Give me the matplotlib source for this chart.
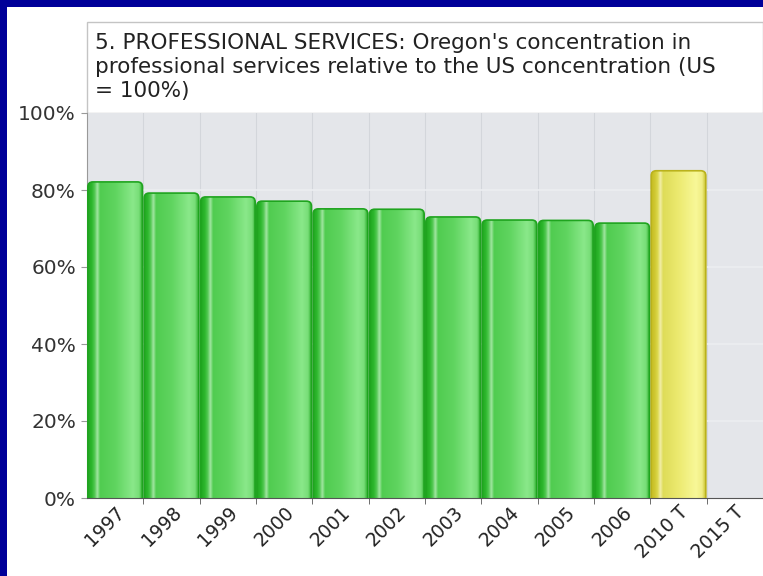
import numpy as np
import matplotlib
matplotlib.use("Agg")
import matplotlib.pyplot as plt
from matplotlib.colors import LinearSegmentedColormap
from matplotlib.patches import FancyBboxPatch, Rectangle
from matplotlib.transforms import ScaledTranslation

# Oregon concentration relative to the US (US = 100%)
years = ["1997", "1998", "1999", "2000", "2001", "2002", "2003",
         "2004", "2005", "2006", "2010 T", "2015 T"]
share = [82.1, 79.2, 78.2, 77.1, 75.1, 75.0, 73.0, 72.2, 72.1, 71.4, 85.0, None]
is_target = [False] * 10 + [True, True]

title = ("5. PROFESSIONAL SERVICES: Oregon's concentration in\n"
         "professional services relative to the US concentration (US\n"
         "= 100%)")

green = LinearSegmentedColormap.from_list("green_bar", [
    (0.00, "#1fa61f"), (0.07, "#2eb82e"), (0.12, "#52c852"),
    (0.17, "#a2e6a2"), (0.22, "#50cc50"), (0.50, "#5fd45f"),
    (0.82, "#8ae88a"), (0.93, "#78de78"), (1.00, "#26aa26")])
yellow = LinearSegmentedColormap.from_list("yellow_bar", [
    (0.00, "#c4bc20"), (0.07, "#d0c832"), (0.12, "#dcd84c"),
    (0.17, "#f2eea8"), (0.22, "#dedc58"), (0.50, "#ecea70"),
    (0.82, "#f8f898"), (0.93, "#f0ee84"), (1.00, "#c8c028")])

W, H = 763, 576
fig = plt.figure(figsize=(W / 100, H / 100), dpi=100)
fig.patch.set_facecolor("#000099")

# white panel inside the blue frame
fig.patches.append(Rectangle((7 / W, 0), 1, 1 - 7 / H, transform=fig.transFigure,
                             facecolor="white", edgecolor="none", zorder=-2))

left, right, top, bottom = 87, 763, 113, 498
ax = fig.add_axes([left / W, 1 - bottom / H, (right - left) / W, (bottom - top) / H])
ax.set_zorder(2)
ax.set_facecolor("#e4e6ea")

# title box above the plot
fig.patches.append(Rectangle((left / W, 1 - top / H), (right - left) / W, (top - 22) / H,
                             transform=fig.transFigure, facecolor="white",
                             edgecolor="#c4c4c4", linewidth=1, zorder=-1))
fig.text(95 / W, 1 - 33 / H, title, ha="left", va="top", fontsize=15.5,
         color="#222222", linespacing=1.24, family="DejaVu Sans", zorder=3)

n = len(years)
ax.set_xlim(-0.5, n - 0.5)
ax.set_ylim(0, 100)

# faint background grid
for b in np.arange(0.5, n - 0.5, 1):
    ax.axvline(b, color="#d3d6db", lw=0.8, zorder=0)
for yv in [20, 40, 60, 80]:
    ax.axhline(yv, color="#eceef1", lw=1.2, zorder=0)

# pixel -> data ratio for rounded tops
px_x = n / (right - left)
px_y = 100 / (bottom - top)
grad = np.linspace(0, 1, 256).reshape(1, -1)

width = 0.97
for i, (v, tgt) in enumerate(zip(share, is_target)):
    if v is None:
        continue
    cmap = yellow if tgt else green
    edge = "#bab21c" if tgt else "#1fa41f"
    x0 = i - width / 2
    patch = FancyBboxPatch((x0, -5), width, v + 5,
                           boxstyle=f"round,pad=0,rounding_size={5 * px_x}",
                           mutation_aspect=px_y / px_x,
                           facecolor="none", edgecolor=edge, linewidth=1.2, zorder=3)
    ax.add_patch(patch)
    im = ax.imshow(grad, cmap=cmap, aspect="auto", extent=(x0, x0 + width, 0, v),
                   zorder=2, interpolation="bilinear")
    im.set_clip_path(patch)

ax.set_xlim(-0.5, n - 0.5)
ax.set_ylim(0, 100)

ax.set_yticks([0, 20, 40, 60, 80, 100])
ax.set_yticklabels(["0%", "20%", "40%", "60%", "80%", "100%"])
ax.tick_params(axis="y", length=4, color="#999999", labelsize=14.5, labelcolor="#333333", pad=4)

ax.set_xticks(range(n))
ax.set_xticklabels(years, rotation=45, ha="right", rotation_mode="anchor",
                   fontsize=13.5, color="#222222")
ax.tick_params(axis="x", length=0, pad=4)
offset = ScaledTranslation(0, 1 / 100, fig.dpi_scale_trans)
for lbl in ax.get_xticklabels():
    lbl.set_transform(lbl.get_transform() + offset)
ax.set_xticks(np.arange(0.5, n - 0.5, 1), minor=True)
ax.tick_params(axis="x", which="minor", length=4, color="#555555")

for side in ["top", "right"]:
    ax.spines[side].set_visible(False)
ax.spines["left"].set_color("#999999")
ax.spines["bottom"].set_color("#555555")

fig.savefig("out.png", dpi=100, facecolor=fig.get_facecolor())
